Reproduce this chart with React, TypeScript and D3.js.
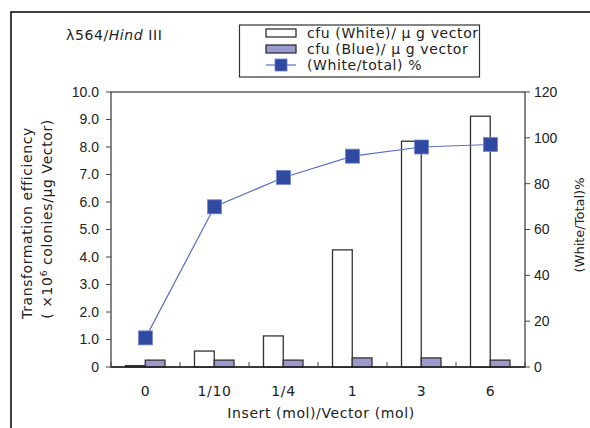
import React from "react";
import * as d3 from "d3";

const categories = ["0", "1/10", "1/4", "1", "3", "6"];
const whiteCfu = [0.05, 0.58, 1.13, 4.26, 8.21, 9.12];
const blueCfu = [0.25, 0.25, 0.25, 0.33, 0.33, 0.25];
const whitePct = [12.7, 69.9, 82.7, 92.0, 96.0, 97.1];
const leftTicks = [0, 1, 2, 3, 4, 5, 6, 7, 8, 9, 10];
const rightTicks = [0, 20, 40, 60, 80, 100, 120];

const W = 590;
const H = 428;
const m = { left: 111, right: 525, top: 92, bottom: 367 };
const font = "'DejaVu Sans', Verdana, sans-serif";
const numFont = "'Liberation Sans', Arial, sans-serif";
const ls = 0.6;

export default function App() {
  const x = d3.scaleBand().domain(categories).range([m.left, m.right]);
  const inner = d3.scaleBand().domain(["white", "blue"]).range([-20, 19.5]);
  const yL = d3.scaleLinear().domain([0, 10]).range([m.bottom, m.top]);
  const yR = d3.scaleLinear().domain([0, 120]).range([m.bottom, m.top]);
  const cx = (c: string) => (x(c) as number) + x.bandwidth() / 2;

  const line = d3
    .line<number>()
    .x((_, i) => cx(categories[i]))
    .y((d) => yR(d));

  const boundaries = d3.range(0, categories.length + 1).map((i) => m.left + i * x.step());

  return (
    <svg width={W} height={H} style={{ position: "absolute", left: 0, top: 0 }}>
      <rect width={W} height={H} fill="#fff" />
      {/* outer frame, cut off at right and bottom */}
      <path d={`M11,${H + 2}V12H${W + 2}`} fill="none" stroke="#000" strokeWidth={1.5} />

      <text x={66} y={40} fontFamily={font} fontSize={14} letterSpacing={ls} fill="#222">
        λ564/<tspan fontStyle="italic">Hind</tspan> III
      </text>

      {/* legend */}
      <g fontFamily={font} fontSize={14} letterSpacing={ls} fill="#222">
        <rect x={239.5} y={25} width={240} height={52} fill="#fff" stroke="#333" strokeWidth={1.2} />
        <rect x={266} y={29} width={30} height={8} fill="#fff" stroke="#222" strokeWidth={1.2} />
        <text x={307} y={38}>cfu (White)/ μ g vector</text>
        <rect x={266} y={45} width={30} height={8} fill="#9a9acf" stroke="#222" strokeWidth={1.2} />
        <text x={307} y={54}>cfu (Blue)/ μ g vector</text>
        <line x1={266} x2={296} y1={65} y2={65} stroke="#5a6fc4" strokeWidth={1.2} />
        <rect x={275} y={59} width={12} height={12} fill="#2f4aa0" stroke="#6b7fd0" strokeWidth={0.8} />
        <text x={307} y={70}>(White/total) %</text>
      </g>

      {/* plot frame */}
      <rect
        x={m.left}
        y={m.top}
        width={m.right - m.left}
        height={m.bottom - m.top}
        fill="none"
        stroke="#444"
        strokeWidth={1.3}
      />

      {/* left axis */}
      <g fontFamily={numFont} fontSize={14} fill="#222">
        {leftTicks.map((t) => (
          <g key={t}>
            <line x1={m.left - 5} x2={m.left} y1={yL(t)} y2={yL(t)} stroke="#444" />
            <text x={m.left - 12} y={yL(t)} dy="0.35em" textAnchor="end">
              {t === 0 ? "0" : d3.format(".1f")(t)}
            </text>
          </g>
        ))}
      </g>

      {/* right axis */}
      <g fontFamily={numFont} fontSize={14} fill="#222">
        {rightTicks.map((t) => (
          <g key={t}>
            <line x1={m.right} x2={m.right + 5} y1={yR(t)} y2={yR(t)} stroke="#444" />
            <text x={m.right + 9} y={yR(t)} dy="0.35em">
              {t}
            </text>
          </g>
        ))}
      </g>

      {/* bars */}
      {categories.map((c, i) => (
        <g key={c}>
          <rect
            x={cx(c) + (inner("white") as number)}
            y={yL(whiteCfu[i])}
            width={inner.bandwidth()}
            height={m.bottom - yL(whiteCfu[i])}
            fill="#fff"
            stroke="#333"
            strokeWidth={1.3}
          />
          <rect
            x={cx(c) + (inner("blue") as number)}
            y={yL(blueCfu[i])}
            width={inner.bandwidth()}
            height={m.bottom - yL(blueCfu[i])}
            fill="#9a9acf"
            stroke="#333"
            strokeWidth={1.3}
          />
        </g>
      ))}

      {/* x ticks between categories */}
      {boundaries.map((b, i) => (
        <line key={i} x1={b} x2={b} y1={m.bottom} y2={m.bottom - 5} stroke="#444" />
      ))}
      <line x1={m.left} x2={m.right} y1={m.bottom} y2={m.bottom} stroke="#222" strokeWidth={1.5} />

      {/* percentage line */}
      <path d={line(whitePct) || ""} fill="none" stroke="#5a6fc4" strokeWidth={1.2} />
      {whitePct.map((v, i) => (
        <rect
          key={i}
          x={cx(categories[i]) - 7}
          y={yR(v) - 7}
          width={14}
          height={14}
          fill="#2f4aa0"
          stroke="#7385d4"
          strokeWidth={0.8}
        />
      ))}

      {/* x labels */}
      <g fontFamily={font} fontSize={14} letterSpacing={ls} fill="#222" textAnchor="middle">
        {categories.map((c) => (
          <text key={c} x={cx(c)} y={391} dy="0.35em">
            {c}
          </text>
        ))}
        <text x={(m.left + m.right) / 2 + 3} y={413} dy="0.35em">
          Insert (mol)/Vector (mol)
        </text>
      </g>

      {/* axis titles */}
      <g fontFamily={font} fill="#222" textAnchor="middle">
        <text transform={`translate(32,223) rotate(-90)`} fontSize={14} letterSpacing={ls}>
          Transformation efficiency
        </text>
        <text transform={`translate(52,219) rotate(-90)`} fontSize={14} letterSpacing={ls}>
          ( ×10<tspan dy="-5" fontSize={9}>6</tspan>
          <tspan dy="5"> colonies/μg Vector)</tspan>
        </text>
        <text transform={`translate(584,225) rotate(-90)`} fontSize={13}>
          (White/Total)%
        </text>
      </g>
    </svg>
  );
}
